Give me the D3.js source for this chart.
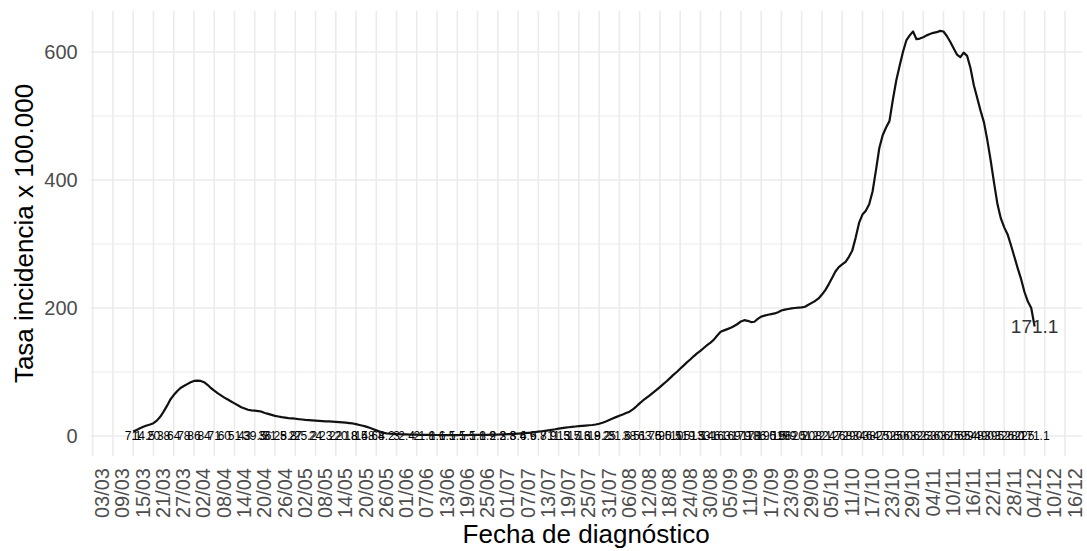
<!DOCTYPE html>
<html>
<head>
<meta charset="utf-8">
<script src="https://cdn.jsdelivr.net/npm/d3@7"></script>
<style>
  body { margin: 0; background: #fff; }
  svg { font-family: "Liberation Sans", Arial, sans-serif; }
</style>
</head>
<body>
<div class="chart"></div>
<script>
// 14-day incidence per 100,000, one value per day from 15/03 to 07/12
const startDate = "2020-03-15";
const incidence = [
  7.1, 9.5, 12, 14.5, 16.5, 18, 20, 24, 30, 38, 47, 57, 64, 70, 75, 78, 81, 84, 86, 86.5, 86,
  84, 80, 75, 71, 67, 63.5, 60, 57, 54, 51, 48, 45, 43, 41, 40, 39.5, 39, 38, 36, 34.5,
  33, 31.5, 30.5, 29.5, 28.8, 28, 27.5, 27, 26.3, 25.8, 25.2, 24.8, 24.4, 24, 23.7, 23.3, 23, 22.7, 22.4, 22,
  21.7, 21.3, 20.8, 20.2, 19.6, 18.5, 17.2, 16, 14.6, 12.8, 10.8, 8.8, 6.8, 5.2, 4.2, 3.6, 3.3, 3.0, 2.7, 2.5,
  2.4, 2.2, 2.1, 2.0, 1.9, 1.8, 1.8, 1.7, 1.6, 1.6, 1.5, 1.5, 1.5, 1.4, 1.5, 1.5, 1.6, 1.6, 1.5, 1.6,
  1.7, 1.8, 1.9, 1.9, 1.9, 2.0, 2.1, 2.3, 2.5, 2.6, 2.8, 3.0, 3.3, 3.6, 4.0, 4.4, 4.9, 5.4, 6.0, 6.7,
  7.4, 8.1, 8.9, 9.7, 10.5, 11.5, 12.3, 13, 13.7, 14.3, 14.8, 15.3, 15.8, 16.3, 16.8, 17.2, 18, 19.2, 20.8, 22.8,
  25, 27.3, 29.5, 31.6, 33.6, 35.8, 38, 41.5, 46, 51, 55.5, 59.5, 63.5, 67.8, 72, 76.5, 81, 85.5, 90.5, 95.5,
  100, 105, 110, 115, 119.5, 124.5, 129, 133, 137.5, 142, 146, 150.5, 157, 163, 165, 167, 169, 172, 175, 179,
  181, 180, 178, 178.5, 183, 186.5, 188, 189.5, 190.5, 191.5, 193.5, 196, 197.5, 198.5, 199.5, 200, 200.5, 201, 202, 205,
  208, 211, 215, 221, 228, 237, 247, 257, 264, 268, 272, 280, 290, 310, 333, 346, 352, 362, 382, 415,
  450, 470, 482, 492, 525, 555, 578, 600, 618, 626, 632, 620, 621, 623, 626, 628, 630, 631, 633, 632,
  625, 616, 606, 596, 592, 599, 594, 575, 548, 528, 508, 490, 462, 430, 395, 362, 340, 326, 315, 298,
  280, 262, 245, 225, 210, 200, 171.1
];

const xTickLabels = [
  "03/03", "09/03", "15/03", "21/03", "27/03", "02/04", "08/04", "14/04", "20/04", "26/04",
  "02/05", "08/05", "14/05", "20/05", "26/05", "01/06", "07/06", "13/06", "19/06", "25/06",
  "01/07", "07/07", "13/07", "19/07", "25/07", "31/07", "06/08", "12/08", "18/08", "24/08",
  "30/08", "05/09", "11/09", "17/09", "23/09", "29/09", "05/10", "11/10", "17/10", "23/10",
  "29/10", "04/11", "10/11", "16/11", "22/11", "28/11", "04/12", "10/12", "16/12"
];
const yTicks = [0, 200, 400, 600];
const yMinorTicks = [100, 300, 500];

const parseDay = d3.utcParse("%d/%m/%Y");
const day0 = d3.utcParse("%Y-%m-%d")(startDate);
const data = incidence.map((v, i) => ({ date: d3.utcDay.offset(day0, i), value: v }));
const tickDates = xTickLabels.map(s => parseDay(s + "/2020"));

// Set up the dimensions
const width = 1087, height = 551;
const panel = { left: 90.7, right: 1081.7, top: 11, bottom: 456 };

const svg = d3.select(".chart")
    .append("svg")
    .attr("width", width)
    .attr("height", height);

// Scales
const x = d3.scaleUtc()
    .domain([tickDates[0], tickDates[tickDates.length - 1]])
    .range([92.7, 1065]);
const y = d3.scaleLinear()
    .domain([0, 600])
    .range([436, 52]);

// Grid lines
const grid = svg.append("g").attr("stroke", "#ebebeb");
grid.selectAll(".hmin")
    .data(yMinorTicks)
    .join("line")
    .attr("x1", panel.left).attr("x2", panel.right)
    .attr("y1", d => y(d)).attr("y2", d => y(d))
    .attr("stroke-width", 1.2);
grid.selectAll(".hmaj")
    .data(yTicks)
    .join("line")
    .attr("x1", panel.left).attr("x2", panel.right)
    .attr("y1", d => y(d)).attr("y2", d => y(d))
    .attr("stroke-width", 1.6);
grid.selectAll(".v")
    .data(tickDates)
    .join("line")
    .attr("x1", d => x(d)).attr("x2", d => x(d))
    .attr("y1", panel.top).attr("y2", panel.bottom)
    .attr("stroke-width", 1.6);

// X axis (rotated date labels)
const xAxis = svg.append("g")
    .attr("transform", `translate(0,${panel.bottom})`)
    .call(d3.axisBottom(x).tickValues(tickDates).tickFormat(d3.utcFormat("%d/%m")).tickSize(0));
xAxis.select(".domain").remove();
xAxis.selectAll("text")
    .attr("transform", "rotate(-90)")
    .attr("text-anchor", "end")
    .attr("x", -12)
    .attr("y", 16)
    .attr("dy", null)
    .attr("fill", "#4d4d4d")
    .style("font-size", "20px");

// Y axis
const yAxis = svg.append("g")
    .attr("transform", `translate(${panel.left},0)`)
    .call(d3.axisLeft(y).tickValues(yTicks).tickSize(0));
yAxis.select(".domain").remove();
yAxis.selectAll("text")
    .attr("x", -13)
    .attr("fill", "#4d4d4d")
    .style("font-size", "20px");

// Axis titles
svg.append("text")
    .attr("x", (panel.left + panel.right) / 2)
    .attr("y", 543)
    .attr("text-anchor", "middle")
    .style("font-size", "26px")
    .text("Fecha de diagnóstico");
svg.append("text")
    .attr("transform", `translate(33,${(panel.top + panel.bottom) / 2}) rotate(-90)`)
    .attr("text-anchor", "middle")
    .style("font-size", "26px")
    .text("Tasa incidencia x 100.000");

const fmt = v => String(Math.round(v * 10) / 10);

// Value labels along the zero line (they pile up, as in the original)
svg.append("g")
    .selectAll("text")
    .data(data.filter((d, i) => i % 3 === 0))
    .join("text")
    .attr("x", d => x(d.date))
    .attr("y", y(0))
    .attr("dy", "0.35em")
    .attr("text-anchor", "middle")
    .style("font-size", "12px")
    .attr("fill", "#000")
    .text(d => fmt(d.value));

// The line
const line = d3.line()
    .x(d => x(d.date))
    .y(d => y(d.value));
svg.append("path")
    .datum(data)
    .attr("fill", "none")
    .attr("stroke", "#111")
    .attr("stroke-width", 2.2)
    .attr("stroke-linejoin", "round")
    .attr("d", line);

// Label for the last value
const last = data[data.length - 1];
svg.append("text")
    .attr("x", x(last.date))
    .attr("y", y(last.value))
    .attr("dy", "0.35em")
    .attr("text-anchor", "middle")
    .attr("fill", "#333")
    .style("font-size", "19px")
    .text(fmt(last.value));
</script>
</body>
</html>
